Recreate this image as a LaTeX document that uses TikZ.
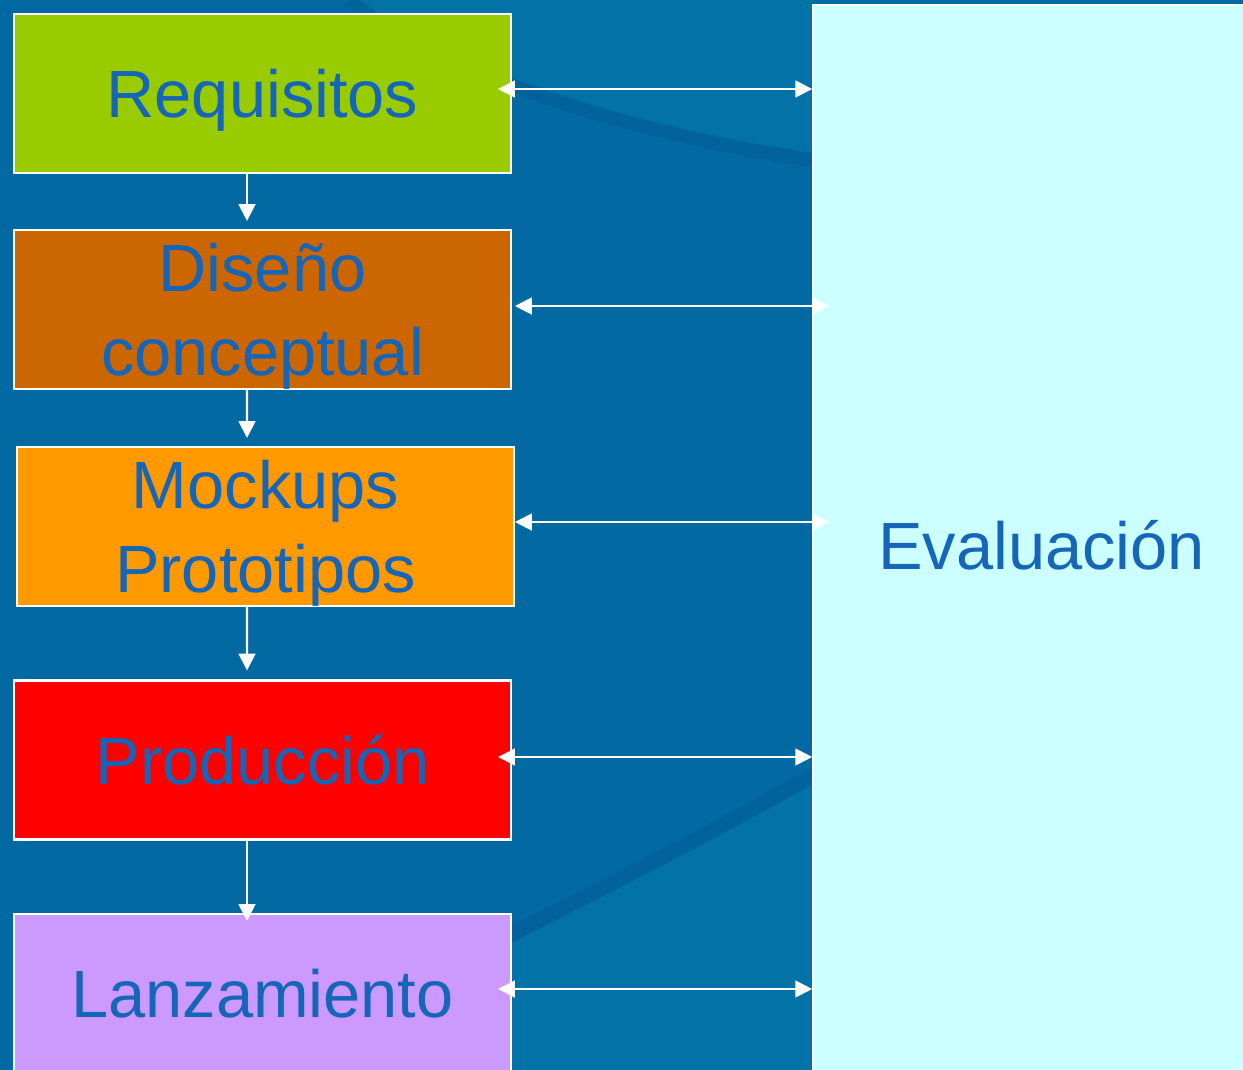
\documentclass[tikz,border=0pt]{standalone}
\usepackage{fontspec}
\setmainfont{Liberation Sans}
\usepackage{tikz}
\usetikzlibrary{arrows.meta}

\definecolor{slidebg}{HTML}{0369A3}
\definecolor{slidelight}{HTML}{0372A6}
\definecolor{swoosh}{HTML}{02639C}
\definecolor{txtblue}{HTML}{1565B8}
\definecolor{reqgreen}{HTML}{99CC00}
\definecolor{disbrown}{HTML}{CC6600}
\definecolor{mockorange}{HTML}{FF9900}
\definecolor{prodred}{HTML}{FF0000}
\definecolor{lanzlilac}{HTML}{CC99FF}
\definecolor{evalcyan}{HTML}{CCFFFF}

\tikzset{
	stage/.style={draw=white, line width=1.2pt, minimum width=9.94cm, minimum height=3.18cm,
		inner sep=0pt, align=center, text depth=0pt, text=txtblue, font=\fontsize{38}{48}\selectfont},
	flow/.style={draw=white, line width=1.2pt, -{Triangle[length=9.6pt,width=9.6pt]}},
	both/.style={draw=white, line width=1.2pt,
		{Triangle[length=9.6pt,width=9.6pt]}-{Triangle[length=9.6pt,width=9.6pt]}},
}

\begin{document}
\begin{tikzpicture}[x=0.02cm, y=-0.02cm]
	
	% =========================================================
	% Background of the slide
	% =========================================================
	\useasboundingbox (0,0) rectangle (1243,1070);
	\fill[slidebg] (0,0) rectangle (1243,1070);
	\fill[slidelight] (349,0) .. controls (420,60) and (600,130) .. (813,160) -- (813,0) -- cycle;
	\fill[slidelight] (400,990) .. controls (560,910) and (700,840) .. (813,775) -- (813,1070) -- (400,1070) -- cycle;
	
	% Swooshes
	\draw[swoosh, line width=0.28cm] (349,0) .. controls (420,60) and (600,130) .. (813,160);
	\draw[swoosh, line width=0.3cm] (400,990) .. controls (560,910) and (700,840) .. (813,775);
	
	% =========================================================
	% Stages
	% =========================================================
	\node[stage, fill=reqgreen] (req) at (262.5,93.5) {Requisitos};
	\node[stage, fill=disbrown] (dis) at (262.5,309.5) {Diseño\\conceptual};
	\node[stage, fill=mockorange] (mock) at (265.5,526.5) {Mockups\\Prototipos};
	\node[stage, fill=prodred] (prod) at (262.5,760) {Producción};
	\node[stage, fill=lanzlilac] (lanz) at (262.5,993.5) {Lanzamiento};
	
	% Evaluation column
	\node[draw=white, line width=1pt, fill=evalcyan, minimum width=9.14cm, minimum height=21.6cm,
		inner sep=0pt, text=txtblue, font=\fontsize{38}{48}\selectfont] (eval) at (1041.5,545) {Evaluación};
	
	% =========================================================
	% Flow between stages
	% =========================================================
	\draw[flow, shorten >=0.16cm] ([xshift=-0.31cm]req.south) -- ([xshift=-0.31cm]dis.north);
	\draw[flow, shorten >=0.16cm] ([xshift=-0.31cm]dis.south) -- ([xshift=-0.37cm]mock.north);
	\draw[flow, shorten >=0.18cm] ([xshift=-0.37cm]mock.south) -- ([xshift=-0.31cm]prod.north);
	\draw[flow, shorten >=-0.16cm] ([xshift=-0.31cm]prod.south) -- ([xshift=-0.31cm]lanz.north);
	
	% =========================================================
	% Links to evaluation
	% =========================================================
	\coordinate (r1) at ([yshift=0.09cm]req.east);
	\coordinate (r2) at ([yshift=0.07cm]dis.east);
	\coordinate (r3) at ([yshift=0.09cm]mock.east);
	\coordinate (r4) at ([yshift=0.06cm]prod.east);
	\coordinate (r5) at ([yshift=0.09cm]lanz.east);
	
	\draw[both, shorten <=-0.28cm] (r1) -- (r1 -| eval.west);
	\draw[both, shorten <=0.06cm, shorten >=-0.34cm] (r2) -- (r2 -| eval.west);
	\draw[both, shorten >=-0.34cm] (r3) -- (r3 -| eval.west);
	\draw[both, shorten <=-0.28cm] (r4) -- (r4 -| eval.west);
	\draw[both, shorten <=-0.28cm] (r5) -- (r5 -| eval.west);
	
\end{tikzpicture}
\end{document}
